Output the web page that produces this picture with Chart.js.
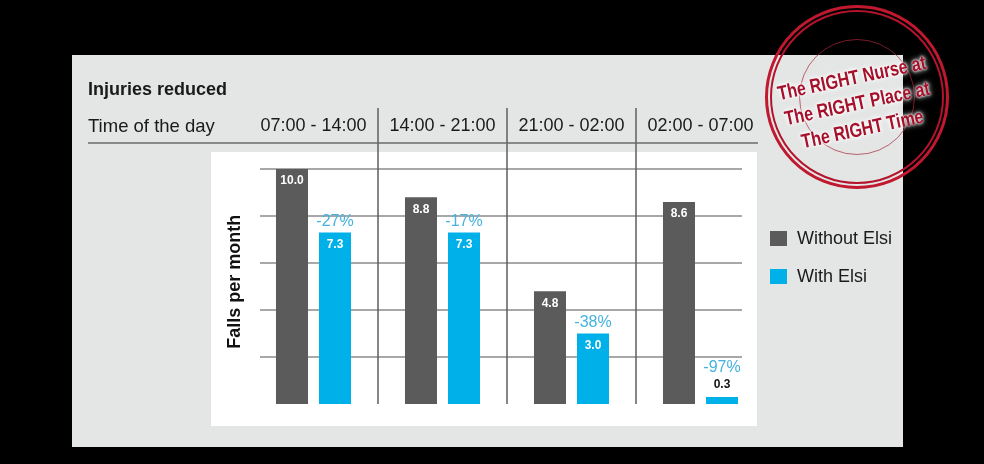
<!DOCTYPE html>
<html>
<head>
<meta charset="utf-8">
<script src="https://cdn.jsdelivr.net/npm/chart.js@4.4.1/dist/chart.umd.min.js"></script>
<style>
  html, body { margin: 0; padding: 0; background: #000; width: 984px; height: 464px; overflow: hidden;
    font-family: Arial, "Liberation Sans", sans-serif; }
  #panel { position: absolute; left: 72px; top: 55px; width: 831px; height: 392px; background: #e4e5e5; }
  #plotbg { position: absolute; left: 211px; top: 152px; width: 546px; height: 274px; background: #fff; }
  #chart { position: absolute; left: 0; top: 0; }
  .hdr { position: absolute; font-size: 18px; line-height: 18px; color: #1a1a1a; white-space: nowrap; }
  #legend { position: absolute; left: 770px; top: 228px; }
  .item { display: flex; align-items: center; height: 20px; margin-bottom: 18px; font-size: 18px; color: #1a1a1a; }
  .swatch { width: 17px; height: 15px; margin-right: 10px; }
  #stamp { position: absolute; left: 765px; top: 5px; width: 184px; height: 184px; }
  .ring { position: absolute; border-radius: 50%; box-sizing: border-box; }
  #stampText { position: absolute; left: 92px; top: 98px; transform: translate(-50%, -50%) rotate(-12deg) scaleX(0.8);
    font-weight: bold; font-size: 20px; line-height: 26px; text-align: center; color: #a5102b; white-space: nowrap;
    text-shadow: 0 0 2px #fff, 0 0 4px #fff, 0 0 7px #fff; }
</style>
</head>
<body>
<div id="panel"></div>
<div id="plotbg"></div>
<canvas id="chart" width="984" height="464"></canvas>
<div class="hdr" style="left:88px; top:80px; font-weight:bold;">Injuries reduced</div>
<div class="hdr" style="left:88px; top:117px; font-size:18.5px;">Time of the day</div>
<div id="legend"></div>
<div id="stamp">
  <div class="ring" style="inset:0; border:3px solid #c0182f;"></div>
  <div class="ring" style="inset:5px; border:2px solid #b3142c;"></div>
  <div class="ring" style="inset:34px; border:1px solid rgba(170,40,60,0.7);"></div>
  <div id="stampText">The RIGHT Nurse at<br>The RIGHT Place at<br>The RIGHT Time</div>
</div>
<script>
const timeSlots = ['07:00 - 14:00', '14:00 - 21:00', '21:00 - 02:00', '02:00 - 07:00'];
const withoutElsi = [10.0, 8.8, 4.8, 8.6];
const withElsi = [7.3, 7.3, 3.0, 0.3];
const reductionLabels = ['-27%', '-17%', '-38%', '-97%'];
const seriesNames = ['Without Elsi', 'With Elsi'];
const seriesColors = ['#5b5b5b', '#00b0e8'];
const gridValues = [0, 2, 4, 6, 8, 10];

// grid lines, column separators and the header rule
const framePlugin = {
  id: 'frame',
  beforeDatasetsDraw(chart) {
    const { ctx, chartArea, scales: { x, y } } = chart;
    ctx.save();
    ctx.lineWidth = 2;
    ctx.strokeStyle = '#a8a8a8';
    y.ticks.forEach((t) => {
      if (t.value <= 0) return;
      const py = Math.round(y.getPixelForValue(t.value));
      ctx.beginPath();
      ctx.moveTo(chartArea.left + 11, py);
      ctx.lineTo(chartArea.right - 23, py);
      ctx.stroke();
    });
    ctx.lineWidth = 1.5;
    ctx.strokeStyle = '#5e5e5e';
    for (let i = 0; i < timeSlots.length - 1; i++) {
      const px = Math.round((x.getPixelForValue(i) + x.getPixelForValue(i + 1)) / 2);
      ctx.beginPath();
      ctx.moveTo(px, 108);
      ctx.lineTo(px, chartArea.bottom);
      ctx.stroke();
    }
    ctx.strokeStyle = '#6a6a6a';
    ctx.beginPath();
    ctx.moveTo(88, 143);
    ctx.lineTo(758, 143);
    ctx.stroke();
    ctx.restore();
  }
};

// values on the bars and the reduction percentages
const labelPlugin = {
  id: 'barLabels',
  afterDatasetsDraw(chart) {
    const { ctx } = chart;
    ctx.save();
    ctx.textAlign = 'center';
    ctx.textBaseline = 'middle';
    chart.data.datasets.forEach((ds, di) => {
      chart.getDatasetMeta(di).data.forEach((bar, i) => {
        const v = ds.data[i];
        const h = bar.base - bar.y;
        ctx.font = 'bold 12px Arial, "Liberation Sans"';
        if (h > 24) {
          ctx.fillStyle = '#fff';
          ctx.fillText(v.toFixed(1), bar.x, bar.y + 12);
        } else {
          ctx.fillStyle = '#111';
          ctx.fillText(v.toFixed(1), bar.x, bar.y - 12);
        }
        if (di === 1) {
          ctx.font = '16px Arial, "Liberation Sans"';
          ctx.fillStyle = '#45b3de';
          ctx.fillText(reductionLabels[i], bar.x, h > 24 ? bar.y - 11 : bar.y - 29);
        }
      });
    });
    ctx.restore();
  }
};

const chart = new Chart(document.getElementById('chart'), {
  type: 'bar',
  data: {
    labels: timeSlots,
    datasets: [
      { label: seriesNames[0], data: withoutElsi, backgroundColor: seriesColors[0] },
      { label: seriesNames[1], data: withElsi, backgroundColor: seriesColors[1] }
    ]
  },
  options: {
    responsive: false,
    animation: false,
    layout: { padding: { top: 92, bottom: 60, left: 220, right: 219 } },
    datasets: { bar: { categoryPercentage: 0.667, barPercentage: 0.744 } },
    plugins: { legend: { display: false }, tooltip: { enabled: false } },
    scales: {
      x: {
        position: 'top',
        grid: { display: false, drawTicks: false },
        border: { display: false },
        ticks: { font: { family: 'Arial, "Liberation Sans"', size: 18 }, color: '#1a1a1a', padding: 23, maxRotation: 0, autoSkip: false }
      },
      y: {
        min: 0,
        max: 10.4,
        grid: { display: false, drawTicks: false },
        border: { display: false },
        ticks: { display: false },
        afterBuildTicks: (scale) => { scale.ticks = gridValues.map((v) => ({ value: v })); },
        title: {
          display: true,
          text: 'Falls per month',
          font: { family: 'Arial, "Liberation Sans"', size: 18, weight: 'bold' },
          color: '#111',
          padding: { top: 4.7, bottom: 2.7 }
        }
      }
    }
  },
  plugins: [framePlugin, labelPlugin]
});

// legend built from the datasets
const legendEl = document.getElementById('legend');
chart.data.datasets.forEach((ds) => {
  const item = document.createElement('div');
  item.className = 'item';
  item.innerHTML = '<span class="swatch" style="background:' + ds.backgroundColor + '"></span>' + ds.label;
  legendEl.appendChild(item);
});
</script>
</body>
</html>
